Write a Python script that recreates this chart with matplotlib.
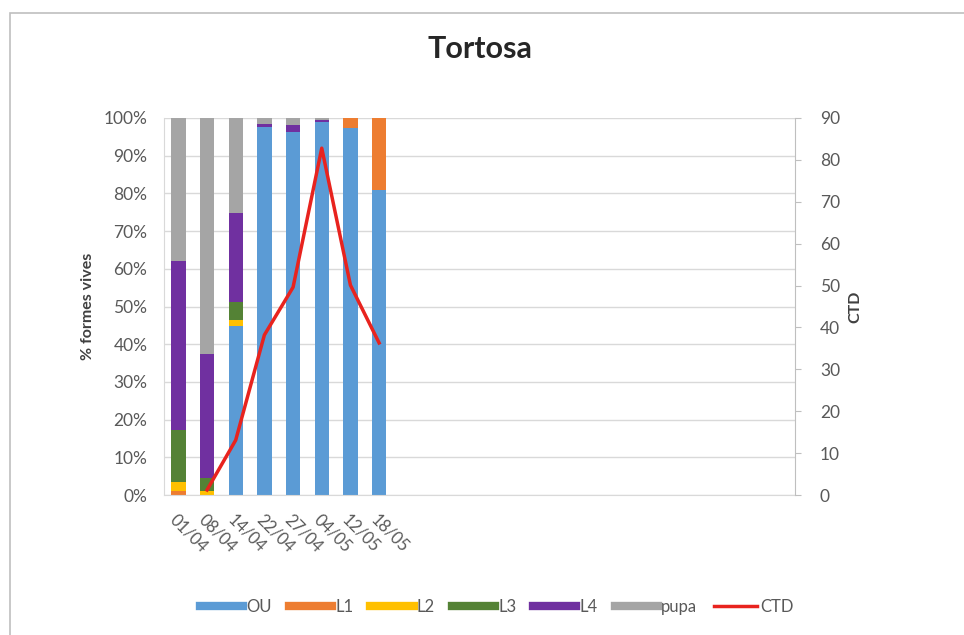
import matplotlib.pyplot as plt
import numpy as np
from matplotlib.patches import Rectangle
from matplotlib.lines import Line2D

plt.rcParams['font.family'] = ['Lato', 'DejaVu Sans']

# --- data ---
dates = ['01/04', '08/04', '14/04', '22/04', '27/04', '04/05', '12/05', '18/05']
ou   = [0.0, 0.0, 44.7, 97.7, 96.4, 99.0, 97.3, 80.9]
l1   = [1.0, 0.0, 0.0, 0.0, 0.0, 0.0, 2.7, 19.1]
l2   = [2.5, 1.0, 1.6, 0.0, 0.0, 0.0, 0.0, 0.0]
l3   = [13.7, 3.4, 4.8, 0.0, 0.0, 0.0, 0.0, 0.0]
l4   = [44.9, 33.0, 23.8, 0.6, 1.7, 0.5, 0.0, 0.0]
pupa = [37.9, 62.6, 25.1, 1.7, 1.9, 0.5, 0.0, 0.0]
ctd  = [np.nan, 1.2, 13.1, 38.2, 49.6, 82.8, 50.1, 36.3]

series = [('OU', ou, '#5B9BD5'), ('L1', l1, '#ED7D31'), ('L2', l2, '#FFC000'),
          ('L3', l3, '#548235'), ('L4', l4, '#7030A0'), ('pupa', pupa, '#A5A5A5')]
n_slots = 22  # category axis runs on past the last sampled date

fig = plt.figure(figsize=(9.64, 6.35), dpi=100)
fig.patches.append(Rectangle((10 / 964, -0.1), 1.1, 1 - 13 / 635 + 0.1,
                             transform=fig.transFigure, fill=False,
                             edgecolor='#BFBFBF', lw=1.2))

ax = fig.add_axes([164 / 964, 1 - 495 / 635, 631 / 964, 377 / 635])
x = np.arange(len(dates))
bottom = np.zeros(len(dates))
for name, vals, col in series:
    ax.bar(x, vals, 0.5, bottom=bottom, color=col, zorder=2)
    bottom += np.array(vals)

ax.set_xlim(-0.5, n_slots - 0.5)
ax.set_ylim(0, 100)
ax.set_yticks(np.arange(0, 101, 10))
ax.set_yticklabels([f'{v}%' for v in range(0, 101, 10)])
ax.yaxis.grid(True, color='#D9D9D9', lw=1, zorder=0)
ax.set_xticks(x)
ax.set_xticklabels(dates, rotation=-45, ha='left', va='top', rotation_mode='anchor')
ax.tick_params(axis='x', length=0, pad=12, labelsize=12, labelcolor='#595959')
ax.tick_params(axis='y', length=0, pad=12, labelsize=12.5, labelcolor='#595959')
for s in ['top', 'right']:
    ax.spines[s].set_visible(False)
for s in ['left', 'bottom']:
    ax.spines[s].set_color('#D9D9D9')
ax.set_ylabel('% formes vives', fontsize=11.5, weight='bold', color='#404040', labelpad=6)

ax2 = ax.twinx()
ax2.plot(x, ctd, color='#E8231E', lw=2.5, zorder=3)
ax2.set_ylim(0, 90)
ax2.set_yticks(np.arange(0, 91, 10))
ax2.tick_params(axis='y', length=4, color='#BFBFBF', pad=14, labelsize=12.5, labelcolor='#595959')
for s in ['top', 'left', 'bottom']:
    ax2.spines[s].set_visible(False)
ax2.spines['right'].set_color('#BFBFBF')
ax2.set_ylabel('CTD', fontsize=11.5, weight='bold', color='#404040', labelpad=6)

ax.set_title('Tortosa', fontsize=22, weight='bold', color='#262626', pad=43)

handles = [Line2D([], [], color=col, lw=6) for _, _, col in series]
handles.append(Line2D([], [], color='#E8231E', lw=2.5))
labels = [n for n, _, _ in series] + ['CTD']
fig.legend(handles, labels, loc='center', bbox_to_anchor=(497 / 964, 1 - 607 / 635),
           ncol=7, frameon=False, fontsize=12, handlelength=2.6, handletextpad=0.2,
           columnspacing=1.0, labelcolor='#595959')

fig.savefig('out.png', dpi=100)
